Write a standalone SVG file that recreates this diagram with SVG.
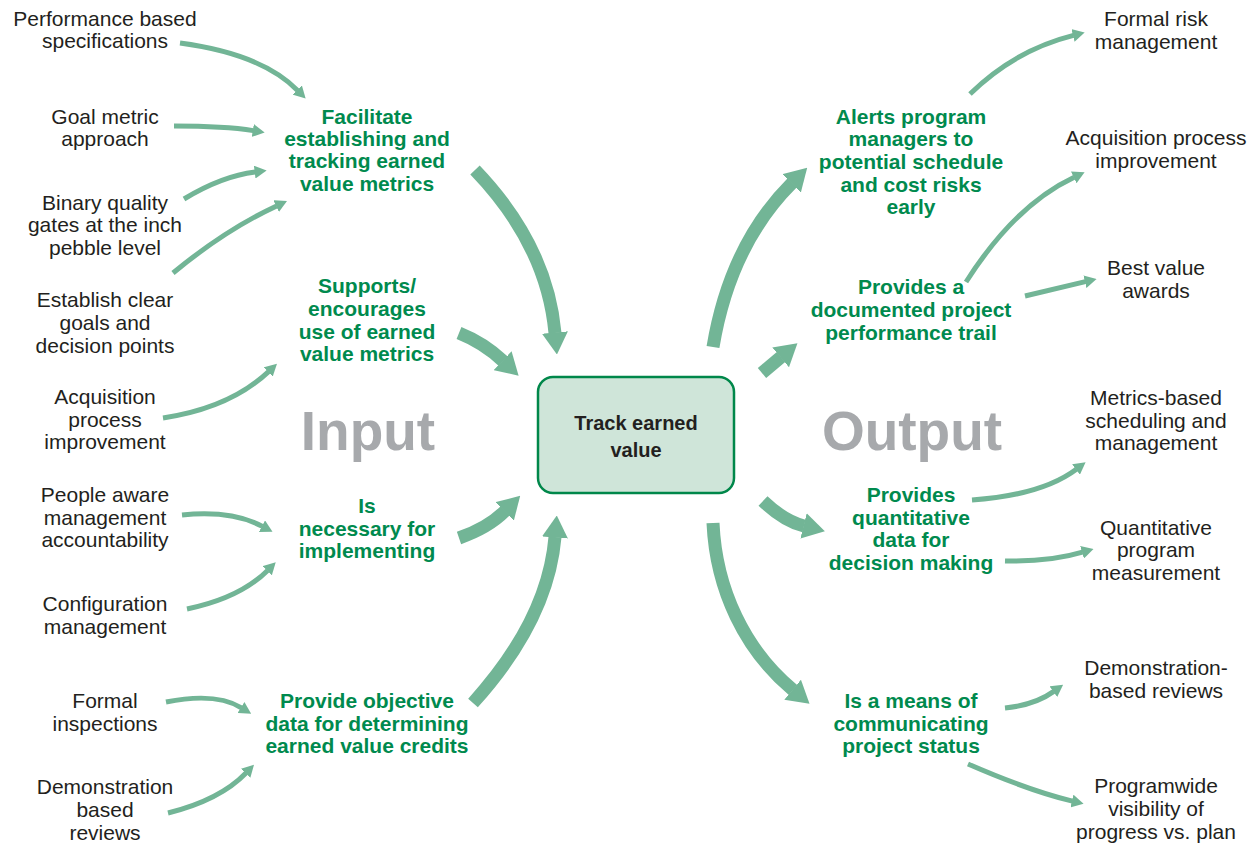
<svg xmlns="http://www.w3.org/2000/svg" width="1256" height="843" viewBox="0 0 1256 843">
<style>
.lbl{font-family:"Liberation Sans",Arial,sans-serif;font-size:21px;fill:#231f20;text-anchor:middle}
.grn{font-family:"Liberation Sans",Arial,sans-serif;font-size:21px;font-weight:bold;fill:#008a4e;text-anchor:middle}
.big{font-family:"Liberation Sans",Arial,sans-serif;font-size:55px;font-weight:bold;fill:#a7a9ac;text-anchor:middle}
.ctr{font-family:"Liberation Sans",Arial,sans-serif;font-size:20px;font-weight:bold;fill:#231f20;text-anchor:middle}
.thick{fill:none;stroke:#72b596;stroke-width:13;marker-end:url(#hb)}
.thin{fill:none;stroke:#72b596;stroke-width:5;marker-end:url(#hs)}
</style>
<defs>
<marker id="hb" markerUnits="userSpaceOnUse" viewBox="0 0 22 26" refX="0.5" refY="13" markerWidth="22" markerHeight="26" orient="auto">
<path d="M0,0 L22,13 L0,26 z" fill="#72b596"/>
</marker>
<marker id="hs" markerUnits="userSpaceOnUse" viewBox="0 0 12 13" refX="0.5" refY="6.5" markerWidth="12" markerHeight="13" orient="auto">
<path d="M0,0 L12,6.5 L0,13 z" fill="#72b596"/>
</marker>
</defs>
<rect width="1256" height="843" fill="#ffffff"/>

<g id="connectors">
<path class="thick" d="M475,170 Q547,245 555,333"/>
<path class="thick" d="M459,333 Q484,343 503,361"/>
<path class="thick" d="M459,538 Q488,528 505,511"/>
<path class="thick" d="M473,703 Q548,620 555,537"/>
<path class="thick" d="M713,347 Q730,245 792,183"/>
<path class="thick" d="M762,373 L781,357"/>
<path class="thick" d="M763,501 Q784,521 804,526"/>
<path class="thick" d="M713,523 C716,590 745,650 793,690"/>

<path class="thin" d="M180,43 Q262,54 297.6,90.4"/>
<path class="thin" d="M174,126 Q225,126 253.3,130.6"/>
<path class="thin" d="M184,199 Q222,176 255.2,172"/>
<path class="thin" d="M173,273 Q225,230 276.6,205.9"/>
<path class="thin" d="M163,418 Q230,408 268.6,371.6"/>
<path class="thin" d="M182,515 Q232,510 262.4,526.4"/>
<path class="thin" d="M187,609 Q240,598 267.6,570.4"/>
<path class="thin" d="M166,702 Q216,692 241.4,707.8"/>
<path class="thin" d="M168,813 Q220,800 246,773"/>

<path class="thin" d="M970,94 Q1015,50 1073.5,35.4"/>
<path class="thin" d="M966,282 Q1015,205 1074.2,177.2"/>
<path class="thin" d="M1025,296 Q1058,288 1085.4,281.6"/>
<path class="thin" d="M972,500 Q1042,495 1076.4,469.2"/>
<path class="thin" d="M1005,561 Q1050,562 1082.5,552.2"/>
<path class="thin" d="M1005,708 Q1035,705 1053.8,691.4"/>
<path class="thin" d="M968,764 Q1030,791 1072.4,801.1"/>
</g>

<g id="center">
<rect x="538" y="377" width="196" height="116" rx="15" fill="#cfe5d9" stroke="#00874a" stroke-width="2.5"/>
<text class="ctr" x="636" y="430">Track earned</text>
<text class="ctr" x="636" y="457">value</text>
</g>

<g id="input-title"><text class="big" x="368" y="450">Input</text></g>
<g id="output-title"><text class="big" x="912" y="450">Output</text></g>

<g id="in-facilitate">
<text class="grn" x="367" y="124">Facilitate</text>
<text class="grn" x="367" y="146">establishing and</text>
<text class="grn" x="367" y="168">tracking earned</text>
<text class="grn" x="367" y="191">value metrics</text>
</g>
<g id="in-supports">
<text class="grn" x="367" y="293">Supports/</text>
<text class="grn" x="367" y="316">encourages</text>
<text class="grn" x="367" y="339">use of earned</text>
<text class="grn" x="367" y="361">value metrics</text>
</g>
<g id="in-necessary">
<text class="grn" x="367" y="513">Is</text>
<text class="grn" x="367" y="536">necessary for</text>
<text class="grn" x="367" y="558">implementing</text>
</g>
<g id="in-objective">
<text class="grn" x="367" y="708">Provide objective</text>
<text class="grn" x="367" y="731">data for determining</text>
<text class="grn" x="367" y="753">earned value credits</text>
</g>

<g id="out-alerts">
<text class="grn" x="911" y="124">Alerts program</text>
<text class="grn" x="911" y="146">managers to</text>
<text class="grn" x="911" y="169">potential schedule</text>
<text class="grn" x="911" y="192">and cost risks</text>
<text class="grn" x="911" y="214">early</text>
</g>
<g id="out-trail">
<text class="grn" x="911" y="294">Provides a</text>
<text class="grn" x="911" y="317">documented project</text>
<text class="grn" x="911" y="340">performance trail</text>
</g>
<g id="out-quant">
<text class="grn" x="911" y="502">Provides</text>
<text class="grn" x="911" y="525">quantitative</text>
<text class="grn" x="911" y="547">data for</text>
<text class="grn" x="911" y="570">decision making</text>
</g>
<g id="out-comm">
<text class="grn" x="911" y="708">Is a means of</text>
<text class="grn" x="911" y="731">communicating</text>
<text class="grn" x="911" y="753">project status</text>
</g>

<g id="l-perf"><text class="lbl" x="105" y="26">Performance based</text><text class="lbl" x="105" y="48">specifications</text></g>
<g id="l-goal"><text class="lbl" x="105" y="124">Goal metric</text><text class="lbl" x="105" y="146">approach</text></g>
<g id="l-binary"><text class="lbl" x="105" y="210">Binary quality</text><text class="lbl" x="105" y="232">gates at the inch</text><text class="lbl" x="105" y="255">pebble level</text></g>
<g id="l-establish"><text class="lbl" x="105" y="307">Establish clear</text><text class="lbl" x="105" y="330">goals and</text><text class="lbl" x="105" y="353">decision points</text></g>
<g id="l-acq"><text class="lbl" x="105" y="404">Acquisition</text><text class="lbl" x="105" y="427">process</text><text class="lbl" x="105" y="449">improvement</text></g>
<g id="l-people"><text class="lbl" x="105" y="502">People aware</text><text class="lbl" x="105" y="525">management</text><text class="lbl" x="105" y="547">accountability</text></g>
<g id="l-config"><text class="lbl" x="105" y="611">Configuration</text><text class="lbl" x="105" y="634">management</text></g>
<g id="l-formal"><text class="lbl" x="105" y="708">Formal</text><text class="lbl" x="105" y="731">inspections</text></g>
<g id="l-demo"><text class="lbl" x="105" y="794">Demonstration</text><text class="lbl" x="105" y="817">based</text><text class="lbl" x="105" y="840">reviews</text></g>

<g id="r-risk"><text class="lbl" x="1156" y="26">Formal risk</text><text class="lbl" x="1156" y="49">management</text></g>
<g id="r-acq"><text class="lbl" x="1156" y="145">Acquisition process</text><text class="lbl" x="1156" y="168">improvement</text></g>
<g id="r-best"><text class="lbl" x="1156" y="275">Best value</text><text class="lbl" x="1156" y="298">awards</text></g>
<g id="r-metrics"><text class="lbl" x="1156" y="405">Metrics-based</text><text class="lbl" x="1156" y="428">scheduling and</text><text class="lbl" x="1156" y="450">management</text></g>
<g id="r-quant"><text class="lbl" x="1156" y="535">Quantitative</text><text class="lbl" x="1156" y="557">program</text><text class="lbl" x="1156" y="580">measurement</text></g>
<g id="r-demo"><text class="lbl" x="1156" y="675">Demonstration-</text><text class="lbl" x="1156" y="698">based reviews</text></g>
<g id="r-prog"><text class="lbl" x="1156" y="793">Programwide</text><text class="lbl" x="1156" y="816">visibility of</text><text class="lbl" x="1156" y="839">progress vs. plan</text></g>
</svg>
